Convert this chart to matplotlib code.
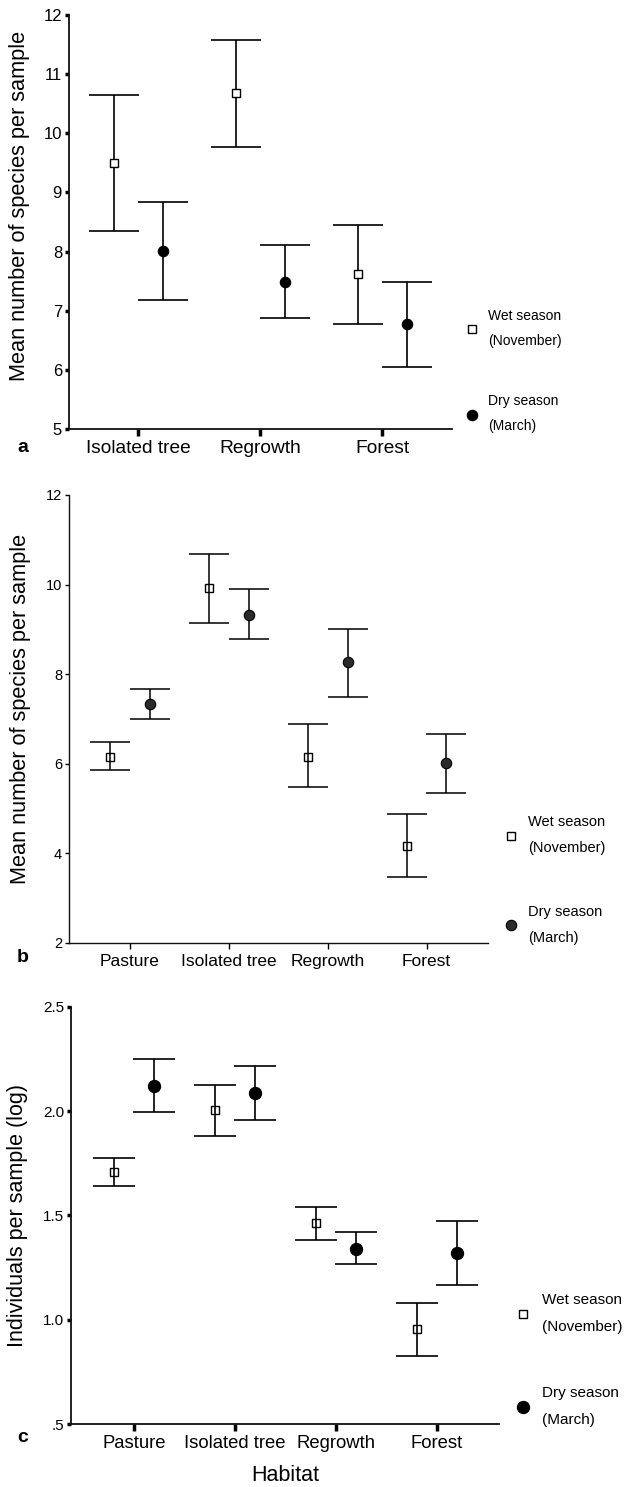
import matplotlib
matplotlib.use("Agg")
import matplotlib.pyplot as plt
from matplotlib.lines import Line2D
import numpy as np

plt.rcParams['font.family'] = ['Liberation Sans', 'DejaVu Sans']

# ---------------- Data ----------------
# Panel a: species richness, three habitats
cats_a = ["Isolated tree", "Regrowth", "Forest"]
wet_a_mean = [9.50, 10.68, 7.62]
wet_a_low = [8.35, 9.76, 6.77]
wet_a_up = [10.65, 11.58, 8.45]
dry_a_mean = [8.01, 7.49, 6.77]
dry_a_low = [7.18, 6.88, 6.04]
dry_a_up = [8.83, 8.11, 7.49]
yticks_a = [5, 6, 7, 8, 9, 10, 11, 12]

# Panel b: species richness, four habitats
cats_b = ["Pasture", "Isolated tree", "Regrowth", "Forest"]
wet_b_mean = [6.15, 9.92, 6.15, 4.17]
wet_b_low = [5.86, 9.14, 5.47, 3.47]
wet_b_up = [6.49, 10.68, 6.88, 4.87]
dry_b_mean = [7.33, 9.32, 8.27, 6.01]
dry_b_low = [7.00, 8.78, 7.49, 5.34]
dry_b_up = [7.66, 9.89, 9.01, 6.67]
yticks_b = [2, 4, 6, 8, 10, 12]

# Panel c: individuals per sample (log)
cats_c = ["Pasture", "Isolated tree", "Regrowth", "Forest"]
wet_c_mean = [1.708, 2.003, 1.462, 0.954]
wet_c_low = [1.642, 1.882, 1.382, 0.826]
wet_c_up = [1.775, 2.123, 1.542, 1.082]
dry_c_mean = [2.121, 2.088, 1.340, 1.321]
dry_c_low = [1.997, 1.957, 1.269, 1.166]
dry_c_up = [2.249, 2.217, 1.422, 1.475]
yticks_c = [0.5, 1.0, 1.5, 2.0, 2.5]
yticklabels_c = [".5", "1.0", "1.5", "2.0", "2.5"]

legend_labels = ["Wet season\n(November)", "Dry season\n(March)"]

W, H = 624, 1487
fig = plt.figure(figsize=(W / 100, H / 100), dpi=100)


def px_axes(l, r, t, b):
    return fig.add_axes([l / W, 1 - b / H, (r - l) / W, (b - t) / H])


def draw_panel(ax, cats, wm, wl, wu, dm, dl, du, off, cap, sq_ms, circ_ms,
               sq_face, dry_face, lw, xlim, ylim):
    x = np.arange(1, len(cats) + 1)
    wm, wl, wu = map(np.asarray, (wm, wl, wu))
    dm, dl, du = map(np.asarray, (dm, dl, du))
    ax.errorbar(x - off, wm, yerr=[wm - wl, wu - wm], fmt='none', ecolor='black',
                elinewidth=lw, capsize=cap, capthick=lw, zorder=2)
    ax.plot(x - off, wm, 's', ms=sq_ms, mfc=sq_face, mec='black', mew=1.0, zorder=3)
    ax.errorbar(x + off, dm, yerr=[dm - dl, du - dm], fmt='none', ecolor='black',
                elinewidth=lw, capsize=cap, capthick=lw, zorder=2)
    ax.plot(x + off, dm, 'o', ms=circ_ms, mfc=dry_face, mec='black', mew=0.8, zorder=3)
    ax.set_xlim(*xlim)
    ax.set_ylim(*ylim)
    ax.set_xticks(x)
    ax.set_xticklabels(cats)
    for s in ['top', 'right']:
        ax.spines[s].set_visible(False)
    for s in ['left', 'bottom']:
        ax.spines[s].set_linewidth(1.3)
        ax.spines[s].set_color('#111111')
    return x


def add_legend(ax, sq_face, dry_face, sq_ms, circ_ms, fs, anchor, ls, lsp):
    handles = [Line2D([], [], ls='none', marker='s', ms=sq_ms, mfc=sq_face, mec='black', mew=1.0),
               Line2D([], [], ls='none', marker='o', ms=circ_ms, mfc=dry_face, mec='black', mew=0.8)]
    leg = ax.legend(handles, legend_labels, loc='center left', bbox_to_anchor=anchor,
                    frameon=False, fontsize=fs, handlelength=1.0, handletextpad=0.7,
                    labelspacing=ls, borderpad=0, borderaxespad=0)
    for t in leg.get_texts():
        t.set_linespacing(lsp)
    return leg


# ---------------- Panel a ----------------
ax_a = px_axes(69, 452, 15, 429)
draw_panel(ax_a, cats_a, wet_a_mean, wet_a_low, wet_a_up, dry_a_mean, dry_a_low, dry_a_up,
           off=0.2, cap=18, sq_ms=5.5, circ_ms=7.5, sq_face='white', dry_face='black',
           lw=1.2, xlim=(0.434, 3.57), ylim=(5, 12))
ax_a.set_yticks(yticks_a)
ax_a.tick_params(axis='y', direction='out', length=3, width=2.5, labelsize=12, pad=2)
ax_a.tick_params(axis='x', direction='out', length=5, width=2.5, labelsize=13.8, pad=3)
ax_a.set_ylabel("Mean number of species per sample", fontsize=15.7, va='center')
ax_a.yaxis.set_label_coords(-0.129, 0.54)
add_legend(ax_a, 'white', 'black', 5.5, 7.5, 10, (1.033, 0.14), 3.36, 2.0)
fig.text(23 / W, 1 - 447 / H, "a", fontsize=14, fontweight='bold', ha='center', va='center')

# ---------------- Panel b ----------------
ax_b = px_axes(69, 487.7, 495, 942.7)
draw_panel(ax_b, cats_b, wet_b_mean, wet_b_low, wet_b_up, dry_b_mean, dry_b_low, dry_b_up,
           off=0.2, cap=14.4, sq_ms=5.5, circ_ms=7.5, sq_face='none', dry_face='#2b2b2b',
           lw=1.1, xlim=(0.383, 4.617), ylim=(2, 12))
ax_b.spines['left'].set_linewidth(1.0)
ax_b.spines['bottom'].set_linewidth(1.0)
ax_b.set_yticks(yticks_b)
ax_b.tick_params(axis='y', direction='out', length=3, width=1.0, labelsize=10.5, pad=2)
ax_b.tick_params(axis='x', direction='out', length=4, width=1.0, labelsize=12.5, pad=4)
ax_b.set_ylabel("Mean number of species per sample", fontsize=15.7, va='center')
ax_b.yaxis.set_label_coords(-0.117, 0.523)
add_legend(ax_b, 'none', '#2b2b2b', 5.5, 7.5, 10.5, (1.0375, 0.14), 3.4, 2.1)
fig.text(23 / W, 1 - 957 / H, "b", fontsize=14, fontweight='bold', ha='center', va='center')

# ---------------- Panel c ----------------
ax_c = px_axes(71, 499.3, 1006.7, 1424)
draw_panel(ax_c, cats_c, wet_c_mean, wet_c_low, wet_c_up, dry_c_mean, dry_c_low, dry_c_up,
           off=0.195, cap=15, sq_ms=6, circ_ms=8.8, sq_face='none', dry_face='black',
           lw=1.2, xlim=(0.376, 4.617), ylim=(0.5, 2.5))
ax_c.set_yticks(yticks_c)
ax_c.set_yticklabels(yticklabels_c)
ax_c.tick_params(axis='y', direction='out', length=3, width=2.5, labelsize=11, pad=2)
ax_c.tick_params(axis='x', direction='out', length=5, width=2.5, labelsize=13.3, pad=3)
ax_c.set_ylabel("Individuals per sample (log)", fontsize=15.5, va='center')
ax_c.yaxis.set_label_coords(-0.124, 0.5)
ax_c.set_xlabel("Habitat", fontsize=15.5, labelpad=9)
add_legend(ax_c, 'none', 'black', 6, 8.8, 11, (1.038, 0.153), 3.42, 2.2)
fig.text(23 / W, 1 - 1437 / H, "c", fontsize=14, fontweight='bold', ha='center', va='center')

fig.savefig("out.png", dpi=100)
